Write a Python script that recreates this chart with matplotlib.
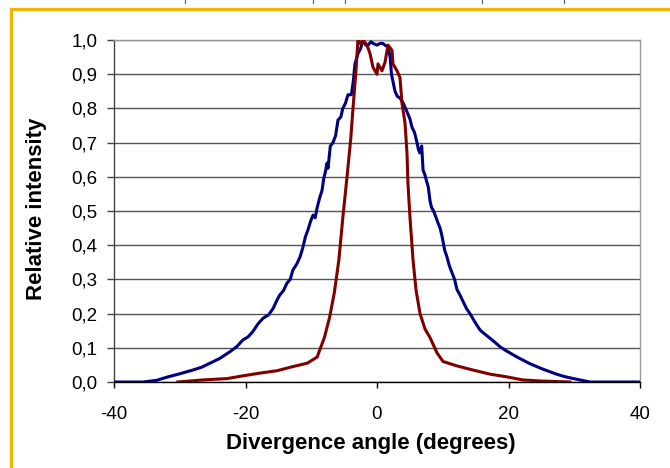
import matplotlib
matplotlib.use("Agg")
import matplotlib.pyplot as plt
from matplotlib.lines import Line2D
from matplotlib.ticker import FuncFormatter, MultipleLocator

# ---------------------------------------------
# Data (degrees, relative intensity)
# ---------------------------------------------
blue_deg = [-40, -35.6, -33.5, -31.8, -30.0, -28.0, -26.7, -25.4, -24.0, -22.4,
            -21.3, -20.4, -19.6, -18.9, -18.1, -17.3, -16.5, -15.8, -15.2, -14.8,
            -14.2, -13.7, -13.2, -12.8, -12.2, -11.7, -11.25, -10.9, -10.5, -10.1,
            -9.73, -9.4, -9.1, -8.7, -8.36, -8.1, -7.9, -7.6, -7.45, -7.1,
            -6.7, -6.3, -5.93, -5.5, -5.2, -4.8, -4.41, -3.9, -3.6, -3.35,
            -2.9, -2.5, -2.13, -1.7, -1.37, -0.9, -0.6, 0.0, 0.46, 0.9,
            1.2, 1.67, 2.0, 2.2, 2.74, 3.1, 3.5, 4.0, 4.56, 5.0,
            5.32, 5.7, 6.08, 6.3, 6.5, 6.8, 7.0, 7.3, 7.5, 7.8,
            8.06, 8.3, 8.6, 9.0, 9.28, 9.6, 9.9, 10.3, 10.65, 11.0,
            11.4, 11.8, 12.17, 12.6, 13.1, 13.6, 14.14, 14.9, 15.67, 16.4,
            17.19, 18.0, 18.71, 19.5, 20.23, 21.2, 22.2, 23.2, 24.3, 25.3,
            26.3, 27.3, 28.3, 29.4, 30.4, 31.4, 32.4, 40]
blue_val = [0.0, 0.0, 0.005, 0.015, 0.024, 0.035, 0.043, 0.055, 0.068, 0.088,
            0.104, 0.123, 0.132, 0.147, 0.170, 0.187, 0.196, 0.215, 0.240, 0.254,
            0.268, 0.289, 0.300, 0.327, 0.345, 0.366, 0.395, 0.424, 0.445, 0.470,
            0.488, 0.480, 0.510, 0.540, 0.560, 0.595, 0.610, 0.640, 0.625, 0.690,
            0.700, 0.720, 0.766, 0.775, 0.800, 0.815, 0.840, 0.840, 0.880, 0.930,
            0.960, 0.975, 1.000, 0.985, 0.985, 0.995, 0.990, 0.985, 0.990, 0.990,
            0.985, 0.980, 0.950, 0.900, 0.850, 0.835, 0.830, 0.815, 0.790, 0.770,
            0.745, 0.730, 0.700, 0.680, 0.670, 0.690, 0.620, 0.605, 0.590, 0.570,
            0.530, 0.510, 0.500, 0.480, 0.465, 0.450, 0.425, 0.385, 0.365, 0.340,
            0.320, 0.300, 0.270, 0.255, 0.235, 0.215, 0.200, 0.175, 0.152, 0.140,
            0.128, 0.115, 0.103, 0.093, 0.085, 0.074, 0.064, 0.054, 0.045, 0.037,
            0.030, 0.023, 0.017, 0.012, 0.008, 0.004, 0.0, 0.0]

red_deg = [-30.3, -26.5, -22.8, -20.4, -17.8, -15.2, -12.8, -10.6, -9.1, -8.7,
           -8.0, -7.2, -6.5, -5.8, -5.2, -4.56, -4.0, -3.65, -3.2, -2.9,
           -2.59, -2.13, -1.52, -1.06, -0.61, 0.0, 0.15, 0.76, 1.22, 1.67,
           2.28, 2.43, 3.04, 3.5, 3.8, 4.26, 4.56, 4.71, 5.02, 5.48,
           5.93, 6.54, 7.3, 8.06, 9.13, 10.04, 12.17, 14.6, 17.19, 19.77,
           22.2, 24.8, 29.35]
red_val = [0.0, 0.006, 0.010, 0.018, 0.026, 0.033, 0.045, 0.055, 0.073, 0.094,
           0.130, 0.190, 0.260, 0.357, 0.480, 0.600, 0.710, 0.800, 0.910, 1.000,
           0.990, 1.000, 0.985, 0.960, 0.920, 0.900, 0.930, 0.910, 0.935, 0.985,
           0.970, 0.930, 0.910, 0.890, 0.815, 0.757, 0.670, 0.580, 0.480, 0.357,
           0.270, 0.200, 0.155, 0.130, 0.085, 0.060, 0.047, 0.035, 0.023, 0.015,
           0.006, 0.003, 0.0]

x_ticks = [-40, -20, 0, 20, 40]

BLUE = "#000080"
RED = "#800000"
ORANGE = "#F2B400"

plt.rcParams["font.family"] = ["Liberation Sans", "DejaVu Sans"]

fig = plt.figure(figsize=(6.7, 4.68), dpi=100)
ax = fig.add_axes([114 / 670, 1 - 382 / 468, 526 / 670, 342 / 468])

ax.plot(blue_deg, blue_val, color=BLUE, linewidth=2.2, zorder=3)
ax.plot(red_deg, red_val, color=RED, linewidth=2.2, zorder=4)

ax.set_xlim(-40, 40)
ax.set_ylim(0, 1.0)
ax.set_xticks(x_ticks)
ax.yaxis.set_major_locator(MultipleLocator(0.1))
ax.yaxis.set_major_formatter(FuncFormatter(lambda v, p: f"{v:.1f}".replace(".", ",")))
ax.xaxis.set_major_formatter(FuncFormatter(lambda v, p: f"{v:.0f}"))

ax.grid(axis="y", color="#555555", linewidth=1.0)
ax.set_axisbelow(True)
for side in ("top", "right"):
    ax.spines[side].set_color("#999999")
    ax.spines[side].set_linewidth(1.0)
ax.spines["left"].set_color("#444444")
ax.spines["bottom"].set_color("black")
ax.spines["left"].set_linewidth(1.0)
ax.spines["bottom"].set_linewidth(1.0)

ax.tick_params(axis="y", direction="out", length=5, width=1, pad=7,
               labelsize=13.5, color="#444444")
ax.tick_params(axis="x", direction="out", length=4, width=1, pad=13,
               labelsize=13.5)

fig.text(371 / 670, 1 - 443 / 468, "Divergence angle (degrees)",
         ha="center", va="center", fontsize=16, fontweight="bold")
fig.text(37 / 670, 1 - 209 / 468, "Relative intensity", rotation=90,
         ha="center", va="center", fontsize=16, fontweight="bold")

# orange frame of the surrounding page
fig.add_artist(Line2D([10.5 / 670, 1], [1 - 8.5 / 468, 1 - 8.5 / 468],
                      color=ORANGE, linewidth=2.3))
fig.add_artist(Line2D([10.5 / 670, 10.5 / 670], [0, 1 - 8.5 / 468],
                      color=ORANGE, linewidth=2.3))
# stubs of the table cell borders above
for px in [185, 313, 345, 482, 564]:
    fig.add_artist(Line2D([px / 670, px / 670], [1 - 3 / 468, 1],
                          color="#555555", linewidth=0.8))

fig.savefig("out.png", dpi=100)
